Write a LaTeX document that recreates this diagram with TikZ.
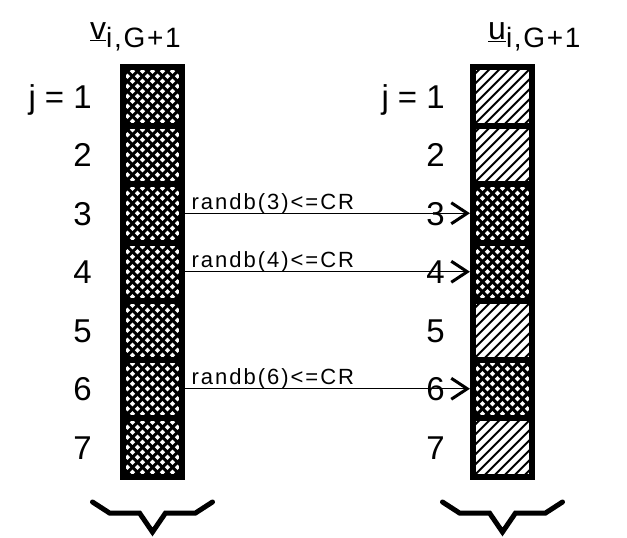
\documentclass[tikz,border=0pt]{standalone}
\usepackage{fontspec}
\setmainfont{Liberation Sans}
\usetikzlibrary{positioning,arrows.meta}

\tikzset{
  cell/.style={minimum width=59pt, minimum height=58.5pt, inner sep=0pt, outer sep=3pt},
  xcell/.style={cell, path picture={
    \foreach \k in {-6,...,6} {
      \draw[line width=3pt] ([xshift=\k*10pt-40pt,yshift=-40pt]path picture bounding box.center) -- ++(80pt,80pt);
      \draw[line width=3pt] ([xshift=\k*10pt-40pt,yshift=40pt]path picture bounding box.center) -- ++(80pt,-80pt);
    }}},
  hcell/.style={cell, path picture={
    \foreach \k in {-6,...,6}
      \draw[line width=2pt] ([xshift=\k*10pt-40pt,yshift=-40pt]path picture bounding box.center) -- ++(80pt,80pt);
    }},
  frm/.style={line width=6pt},
  num/.style={font=\fontsize{33}{36}\selectfont, inner sep=0pt, anchor=base east, yshift=-12pt},
  ttl/.style={font=\fontsize{28}{30}\selectfont\addfontfeature{LetterSpace=6}, inner sep=0pt, anchor=base west},
  lbl/.style={font=\fontsize{22}{24}\selectfont\addfontfeature{LetterSpace=9}, inner sep=0pt, anchor=base west, pos=0, xshift=6pt, yshift=4pt},
  arr/.style={line width=1.3pt, -{Straight Barb[length=16pt,width=21pt,line width=3pt]}},
  brc/.style={line width=5pt, line cap=round, line join=miter}
}

\begin{document}
\begin{tikzpicture}[x=1pt,y=-1pt]
  \path[use as bounding box, fill=white] (0,0) rectangle (627,538);

  \foreach \j in {1,...,7}
    \node[xcell] (v\j) at (152.5,{67+58.5*(\j-.5)}) {};
  \foreach \j/\s in {1/hcell,2/hcell,3/xcell,4/xcell,5/hcell,6/xcell,7/hcell}
    \node[\s] (u\j) at (502.5,{67+58.5*(\j-.5)}) {};
  \foreach \c in {v,u}
    \foreach \j in {1,...,7}
      \draw[frm] (\c\j.center) ++(-29.5,-29.25) rectangle ++(59,58.5);

  \node[ttl] (vt) at (90,39) {{\fontsize{32}{34}\selectfont\underline{v}}\raisebox{-8pt}{i,G+1}};
  \node[ttl] (ut) at (488,39) {{\fontsize{32}{34}\selectfont\underline{u}}\raisebox{-8pt}{i,G+1}};

  \foreach \j in {3,4,6}
    \path (v\j) edge[arr] node[lbl] {randb(\j)<=CR} (u\j);

  \node[left=28pt of v1.west, num] (vn1) {j = 1};
  \node[left=25pt of u1.west, num] (un1) {j = 1};
  \foreach \j in {2,...,7} {
    \node[left=28pt of v\j.west, num] (vn\j) {\j};
    \node[left=25pt of u\j.west, num] (un\j) {\j};
  }

  \coordinate (vb) at (152.5,532);
  \coordinate (ub) at (502.5,532);
  \draw[brc] (vb) ++(-60,-30) -- ++(17,11) -- ++(30,0) -- ++(13,19) -- ++(13,-19) -- ++(30,0) -- ++(17,-11);
  \draw[brc] (ub) ++(-60,-30) -- ++(17,11) -- ++(30,0) -- ++(13,19) -- ++(13,-19) -- ++(30,0) -- ++(17,-11);

\end{tikzpicture}
\end{document}
